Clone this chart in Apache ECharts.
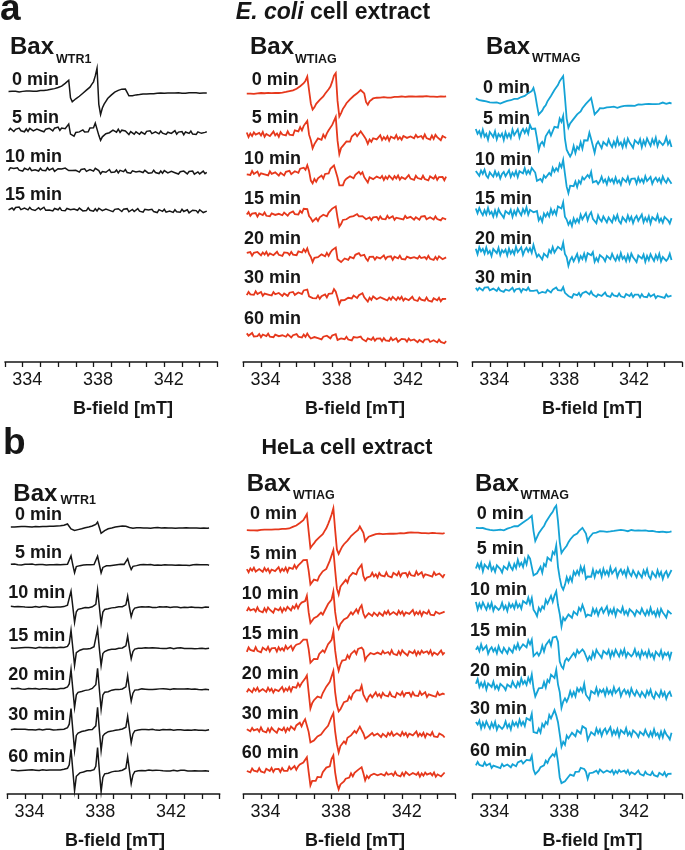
<!DOCTYPE html>
<html><head><meta charset="utf-8">
<script src="https://cdn.jsdelivr.net/npm/echarts/dist/echarts.min.js"></script>
<style>html,body{margin:0;padding:0;background:#fff}#c{width:685px;height:850px}</style>
</head><body><div id="c"></div>
<script>
// ---------- data ----------
// field sampling of every spectrum: 333.2 ... 344.4 mT, step 0.1 mT (113 samples)
const FIELD_START = 333.2, FIELD_STEP = 0.1, FIELD_COUNT = 113;
const TICK_LABELS = [334, 338, 342];

// line shapes (px-size units, positive = up) of the 0-min / reference spectra
const SHAPE_A1 = [0,0,0,0,0,0,0,0.1,0.2,0.2, 0.3,0.3,0.4,0.5,0.5,0.6,0.7,0.8,0.9,1.1, 1.3,1.5,1.7,2,2.4,2.8,3.3,3.9,4.5,5.2,
 6,7,8.3,9.8,12,-6,-10,-8.5,-7,-5.5, -4,-2.5,-1,0.5,2,3.5,5.2,7.5,10.5,16, 24,-12,-22,-16,-12,-9,-6.5,-4.5,-3,-1.5,
 0,1.2,2.2,2.8,3.3,3.6,3.5,0,-3.5,-3.8, -3.2,-2.7,-2.3,-2,-1.8,-1.6,-1.4,-1.3,-1.2,-1.1, -1,-1,-0.9,-0.9,-0.8,-0.8,-0.7,-0.7,-0.6,-0.6,
 -0.5,-0.5,-0.5,-0.4,-0.4,-0.4,-0.3,-0.3,-0.3,-0.2, -0.2,-0.2,-0.1,-0.1,-0.1,0,0,0,0,0, 0,0,0];
const SHAPE_A2 = [0,0,0,0,0,0.1,0.1,0.2,0.2,0.3, 0.3,0.4,0.5,0.5,0.6,0.7,0.8,0.9,1,1.2, 1.4,1.6,1.9,2.2,2.6,3,3.6,4.3,5.2,6.3,
 7.6,9.2,11.2,14,17.6,4,-9,-15.5,-12.5,-9.5, -7.5,-5.6,-3.7,-1.6,0.6,2.8,5,8.5,13,19, 22,-6,-22,-18,-14,-11,-8.5,-6.3,-4.5,-2.8,
 -1.2,0.3,1.8,3.4,5,6.6,2,-7,-9,-6, -3.8,-3.2,-2.8,-2.5,-2.3,-2.1,-2,-1.9,-1.8,-1.7, -1.6,-1.5,-1.4,-1.3,-1.2,-1.1,-1,-0.9,-0.8,-0.7,
 -0.6,-0.5,-0.4,-0.3,-0.2,-0.1,0,0,0,0, 0,0,0,0,0,0,0,0,0,0, 0,0,0];
const SHAPE_A3 = [0,-0.3,-0.6,-0.9,-1.2,-1.5,-1.8,-2.1,-2.4,-2.6, -2.8,-3,-3.1,-3.2,-3.2,-3,-2.7,-2.3,-1.8,-1.3, -0.8,-0.2,0.4,1,1.7,2.4,3.2,4,4.8,5.6,
 6.6,7.8,9.2,11.6,6,-5,-13.5,-13,-10,-7.2, -4.3,-1.4,1.5,4.5,7.4,10.3,13.2,16,19,22, 24.6,4,-18,-26,-23,-20.5,-18,-15.8,-14,-11.8,
 -9.8,-7.6,-5.6,-2.5,-1,1.5,3.2,-4,-13.5,-11, -8.5,-6.8,-6.2,-6,-5.9,-5.8,-5.7,-5.6,-5.5,-5.4, -5.2,-5,-4.8,-4.6,-4.4,-4.2,-4,-3.8,-3.6,-3.4,
 -3.2,-3,-2.8,-2.6,-2.4,-2.2,-2,-1.8,-1.6,-1.4, -1.2,-1,-0.8,-0.6,-0.4,-0.2,0,0,0,0, 0,0,0];
const SHAPE_B1_BROAD = [0,0,0,0,0,0,0,0,0,0, 0,0,0,0,0,0,0,0.1,0.2,0.3, 0.4,0.5,0.6,0.7,0.8,0.9,1,1.2,1.4,1.7,
 2.1,2.6,3.2,2.5,-1.5,-3.4,-3.1,-2.6,-2.2,-1.8, -1.4,-1,-0.6,-0.2,0.3,0.8,1.4,2.2,3.2,5, 0,-5.7,-4.5,-3.2,-2.2,-1.4,-0.8,-0.3,0.2,0.6,
 0.9,1.2,1.4,1.5,1.6,1.5,1,0.3,-0.3,-0.3, -0.2,-0.2,-0.1,-0.1,0,0,0,0,0,0, 0,0,0,0,0,0,0,0,0,0,
 0,0,0,0,0,0,0,0,0,0, 0,0,0,0,0,0,0,0,0,0, 0,0,0];
const SHAPE_B1_SHARP = [0,0,0,0,0,0,0,0,0,0, 0,0,0,0,0,0,0,0,0,0, 0,0,0,0,0,0,0,0.1,0.3,0.5,
 0.8,1.3,2.2,5,21,0,-20,-6,-3.5,-2.8, -2.2,-1.7,-1.2,-0.8,-0.4,0,0.5,1.2,4,22, 0,-21,-6.5,-3.8,-3,-2.4,-1.9,-1.5,-1.1,-0.8,
 -0.5,-0.2,0.1,0.4,0.8,2.5,14,0,-13,-4, -1.5,-0.8,-0.4,-0.2,0,0,0,0,0,0, 0,0,0,0,0,0,0,0,0,0,
 0,0,0,0,0,0,0,0,0,0, 0,0,0,0,0,0,0,0,0,0, 0,0,0];
const SHAPE_B2 = [0,0,0,0,0,0.1,0.1,0.2,0.2,0.3, 0.3,0.4,0.5,0.5,0.6,0.7,0.8,0.9,1,1.2, 1.4,1.6,1.9,2.2,2.6,3,3.6,4.3,5.2,6.3,
 7.6,9.2,11,13.5,16.7,0,-17,-14.5,-12,-10, -8.2,-6.5,-4.8,-2.6,0,3,7.5,11.5,17,23, 2,-18,-22.7,-18.5,-15,-13,-11,-9,-6.5,-4.5,
 -2.8,-1.2,0.4,2,5,6.6,-1,-9,-7,-5, -3.5,-2.9,-2.5,-2.2,-2,-1.8,-1.7,-1.6,-1.5,-1.4, -1.3,-1.2,-1.1,-1,-0.9,-0.8,-0.7,-0.6,-0.5,-0.4,
 -0.3,-0.2,-0.1,0,0,0,0,0,0,0, 0,0,0,0,0,0,0,0,0,0, 0,0,0];
const SHAPE_B3 = [0,-0.3,-0.6,-0.9,-1.2,-1.4,-1.6,-1.8,-2,-2.1, -2.2,-2.2,-2.2,-2.2,-2.2,-2,-1.7,-1.3,-0.9,-0.4, 0.1,0.7,1.3,2,2.8,3.6,4.5,5.5,6.6,7.8,
 9.2,10.8,12.6,-3,-12,-8.3,-5.4,-2.5,0.3,3.2, 6.1,9,11.8,14.7,17.5,20.4,24,8,-12,-24.2, -21.5,-18.5,-15.7,-13,-10.6,-8.5,-6.5,-4.8,-3.3,-1.8,
 -0.5,1,3.6,-4,-11,-8,-5.4,-4,-3,-2.3, -1.8,-1.5,-1.3,-1.1,-1,-0.9,-0.8,-0.7,-0.6,-0.5, -0.4,-0.3,-0.2,-0.1,0,0,0,0,0,0,
 0,0,0,0,0,0,0,0,0,0, 0,0,0,0,0,0,0,0,0,0, 0,0,0];

// recorded noise texture (unit size), hand-read
const NOISE = [0.3,-0.8,0.6,-0.2,0.9,-0.5,-1,0.4,0.1,-0.6, 0.8,-0.3,0.5,-0.9,0.2,0.7,-0.4,-0.1,1,-0.7,
 0.3,-0.5,0.6,-1,0.4,0.2,-0.3,0.9,-0.6,0.1, -0.8,0.5,0.7,-0.2,-0.9,0.3,0.6,-0.4,0.8,-0.1,
 -0.7,0.4,-0.5,1,-0.3,0.2,-0.8,0.6,-0.6,0.9, 0.1,-0.4,-1,0.5,0.3,-0.2,0.7,-0.9,0.4,-0.5,
 0.8,0,-0.7,0.6,-0.3,0.9,-0.8,0.2,0.5,-0.6, -0.1,1,-0.4,0.3,-0.9,0.7,-0.2,0.4,-0.6,0.8,
 -0.5,0.1,-1,0.6,0.2,-0.3,0.9,-0.7,0.4,-0.1, 0.5,-0.8,0.7,-0.4,0.3,-0.6,1,-0.2,-0.5,0.8,
 -0.9,0.1,0.6,-0.3,0.4,-0.7,0.9,-0.1,-0.6,0.5, 0.2,-0.8,0.3];

// per-trace values: time label, signal scale, baseline tilt (left minus right), noise size
const TIMES_A1 = ['0 min','5 min','10 min','15 min'];
const AMP_A1 = [1, 0.4, 0.06, 0];
const TILT_A1 = [1.5, 3, 4, 3];
const NOISE_A1 = [0.3, 2, 1.8, 1.8];

const TIMES_A2 = ['0 min','5 min','10 min','15 min','20 min','30 min','60 min'];
const AMP_A2 = [1, 0.75, 0.52, 0.42, 0.33, 0.27, 0.08];
const TILT_A2 = [3.4, 3, 5, 4.3, 5, 6.7, 6.7];
const NOISE_A2 = [0.4, 2.8, 2.5, 2.2, 2.2, 2.2, 2];

const TIMES_A3 = ['0 min','5 min','10 min','15 min','20 min','30 min'];
const AMP_A3 = [1, 0.75, 0.5, 0.35, 0.3, 0.15];
const TILT_A3 = [4.3, 10, 8.3, 8.3, 8.3, 8.4];
const NOISE_A3 = [0.8, 5, 4, 4.5, 4.5, 2.2];

const TIMES_B1 = ['0 min','5 min','10 min','15 min','20 min','30 min','60 min'];
const AMP_B1 = [1, 0.4, 0.78, 0.85, 0.95, 1, 1.02];
const TILT_B1 = [1.6, 0.5, 0.5, 0.5, 0.5, 0.5, 0.5];
const NOISE_B1 = [0.3, 0.5, 0.5, 0.5, 0.5, 0.5, 0.5];
const KIND_B1 = ['broad','sharp','sharp','sharp','sharp','sharp','sharp'];

const TIMES_B2 = ['0 min','5 min','10 min','15 min','20 min','30 min','60 min'];
const AMP_B2 = [1, 0.85, 0.75, 0.75, 0.85, 0.8, 0.72];
const TILT_B2 = [3.3, 5, 3.3, 4, 5, 5, 5];
const NOISE_B2 = [0.4, 2.8, 2.8, 2.8, 2.8, 2.8, 2.5];

const TIMES_B3 = ['0 min','5 min','10 min','15 min','20 min','30 min','60 min'];
const AMP_B3 = [1, 0.8, 0.6, 0.65, 0.65, 0.7, 0.7];
const TILT_B3 = [4.4, 10, 8.3, 7, 11.7, 11.7, 11.7];
const NOISE_B3 = [0.8, 5, 4.5, 4.5, 4.5, 4.5, 2.5];

// ---------- layout ----------
const FONT = '"Liberation Sans", Arial, Helvetica, sans-serif';
const INK = '#161616', RED = '#e6381c', BLUE = '#14a3d6';
const TOP_AXIS = 362, BOT_AXIS = 794, TOP_GRID = 30, BOT_GRID = 460;
const panels = [
 {shape:()=>SHAPE_A1, times:TIMES_A1, amp:AMP_A1, tilt:TILT_A1, noise:NOISE_A1, color:INK, lw:1.5,
  axis:TOP_AXIS, gtop:TOP_GRID, left:5, pxmT:17.7, base:[93,133,173,211.5],
  lx:[12,12,5,5], lb:[86,123.5,163,201], bax:[10,55], sub:['WTR1',56,63.5], name:123},
 {shape:()=>SHAPE_A2, times:TIMES_A2, amp:AMP_A2, tilt:TILT_A2, noise:NOISE_A2, color:RED, lw:1.8,
  axis:TOP_AXIS, gtop:TOP_GRID, left:243.2, pxmT:17.8, base:[96.7,137.5,178.3,218.5,258.5,300,341.5],
  lx:[251.7,251.7,244,244,244,244,244], lb:[86,123.3,165,205,245,283.3,325], bax:[250,55], sub:['WTIAG',295,63], name:355},
 {shape:()=>SHAPE_A3, times:TIMES_A3, amp:AMP_A3, tilt:TILT_A3, noise:NOISE_A3, color:BLUE, lw:1.8,
  axis:TOP_AXIS, gtop:TOP_GRID, left:472.3, pxmT:19.1, base:[103.3,142.5,180.5,219.5,258.3,296.7],
  lx:[483,483,475,475,475,475], lb:[94,125,165.7,205,245,283.3], bax:[486,55], sub:['WTMAG',532,62], name:592},
 {shape:(i)=>KIND_B1[i]==='broad'?SHAPE_B1_BROAD:SHAPE_B1_SHARP, times:TIMES_B1, amp:AMP_B1, tilt:TILT_B1, noise:NOISE_B1, color:INK, lw:1.5,
  axis:BOT_AXIS, gtop:BOT_GRID, left:7.3, pxmT:17.7, base:[528.3,565,607.3,648.3,689.3,730,770.7],
  lx:[15,15,8.3,8.3,8.3,8.3,8.3], lb:[520.7,558.3,598.3,641.7,680.7,720.7,762.7], bax:[13.3,501.7], sub:['WTR1',60.5,504.5], name:115},
 {shape:()=>SHAPE_B2, times:TIMES_B2, amp:AMP_B2, tilt:TILT_B2, noise:NOISE_B2, color:RED, lw:1.8,
  axis:BOT_AXIS, gtop:BOT_GRID, left:243.3, pxmT:17.66, base:[533.3,575,613.3,653.3,695,735,775],
  lx:[250,250,241.7,241.7,241.7,241.7,241.7], lb:[520,560,600,640,680,720,758.3], bax:[246.7,491.7], sub:['WTIAG',293,499.5], name:355},
 {shape:()=>SHAPE_B3, times:TIMES_B3, amp:AMP_B3, tilt:TILT_B3, noise:NOISE_B3, color:BLUE, lw:1.8,
  axis:BOT_AXIS, gtop:BOT_GRID, left:472.4, pxmT:18.6, base:[531.7,575,613.3,655,695,735,775],
  lx:[476.7,476.7,470,470,470,470,470], lb:[520,555,595.7,636.7,676.7,715,756.7], bax:[475,491.7], sub:['WTMAG',520.5,499.5], name:592.5}
];

const grids = [], xAxes = [], yAxes = [], series = [], graphics = [];
function txt(str, x, baseline, size, opts) {
  opts = opts || {};
  graphics.push({type:'text', x:x, y: baseline - 0.31*size, silent:true,
    style:Object.assign({text:str, fill:INK, font:(opts.weight||'bold')+' '+size+'px '+FONT,
      textAlign:opts.align||'left', textVerticalAlign:'middle', verticalAlign:'middle'}, opts.style||{})});
}

panels.forEach((p, pi) => {
  const width = 12 * p.pxmT;
  grids.push({left:p.left, width:width, top:p.gtop, height:p.axis - p.gtop, containLabel:false});
  xAxes.push({gridIndex:pi, type:'value', min:333, max:345, interval:1,
    axisLine:{show:true, onZero:false, lineStyle:{color:INK, width:1.6}},
    axisTick:{show:true, length:5, lineStyle:{color:INK, width:1.3}},
    axisLabel:{margin:9, fontSize:18, color:INK, fontFamily:FONT, padding:[0,0,0,9],
      formatter:v => TICK_LABELS.indexOf(Math.round(v))>=0 ? String(Math.round(v)) : ''},
    splitLine:{show:false}});
  yAxes.push({gridIndex:pi, type:'value', min:0, max:p.axis - p.gtop, show:false});
  p.times.forEach((t, i) => {
    const shape = p.shape(i), data = [];
    for (let k = 0; k < FIELD_COUNT; k++) {
      const b = +(FIELD_START + FIELD_STEP*k).toFixed(2);
      const v = (p.axis - p.base[i]) + p.tilt[i]*(1 - k/(FIELD_COUNT-1)) + p.amp[i]*shape[k]
              + p.noise[i]*NOISE[(k + 37*i + 19*pi) % NOISE.length];
      data.push([b, v]);
    }
    series.push({type:'line', name:t, xAxisIndex:pi, yAxisIndex:pi, data:data, showSymbol:false, symbol:'none',
      clip:false, silent:true, lineStyle:{color:p.color, width:p.lw, join:'miter'}, animation:false});
    txt(t, p.lx[i], p.lb[i], 18);
  });
  txt('Bax', p.bax[0], p.bax[1], 24);
  txt(p.sub[0], p.sub[1], p.sub[2], 12.5);
  txt('B-field [mT]', p.name, p.axis === TOP_AXIS ? 415 : 846.7, 18, {align:'center'});
});

txt('a', 0, 21.7, 37);
txt('b', 3, 455, 37);
graphics.push({type:'text', x:333, y:13, silent:true, style:{text:'{i|E. coli} cell extract',
  font:'bold 23px '+FONT, fill:INK, textAlign:'center', textVerticalAlign:'middle', verticalAlign:'middle',
  rich:{i:{fontStyle:'italic', fontWeight:'bold', fontSize:23, fontFamily:FONT, fill:INK, color:INK}}}});
txt('HeLa cell extract', 347, 455, 21.5, {align:'center'});

const chart = echarts.init(document.getElementById('c'), null, {renderer:'canvas', width:685, height:850});
chart.setOption({animation:false, backgroundColor:'#ffffff', grid:grids, xAxis:xAxes, yAxis:yAxes, series:series, graphic:graphics});
</script></body></html>
